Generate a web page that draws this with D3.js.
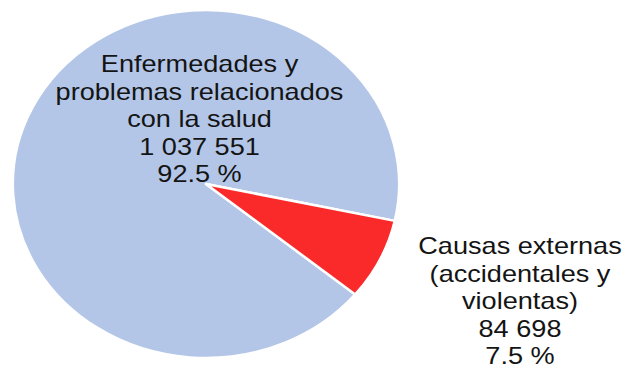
<!DOCTYPE html>
<html>
<head>
<meta charset="utf-8">
<script src="https://cdn.jsdelivr.net/npm/d3@7"></script>
<style>
  body { margin: 0; background: #fff; }
  text { font-family: "Liberation Sans", Arial, sans-serif; fill: #141414; }
</style>
</head>
<body>
<div id="pie"></div>
<script>
// datos
const categories = ["Enfermedades y problemas relacionados con la salud", "Causas externas (accidentales y violentas)"];
const values = [1037551, 84698];
const valueLabels = ["1 037 551", "84 698"];
const pctLabels = ["92.5 %", "7.5 %"];
const labelLines = [
    ["Enfermedades y", "problemas relacionados", "con la salud"],
    ["Causas externas", "(accidentales y", "violentas)"]
];
const colors = ["#b3c6e7", "#fb2a2a"];

function drawPie() {
    const width = 626,
        height = 368,
        cx = 206,
        cy = 184,
        radius = 174,
        sx = 1.11; // el grafico original esta estirado en horizontal

    const svg = d3.select('#pie')
        .append('svg')
        .attr('width', width)
        .attr('height', height);

    const pie = d3.pie()
        .sort(null)
        .startAngle(129.4 * Math.PI / 180)
        .endAngle((129.4 + 360) * Math.PI / 180);

    const arc = d3.arc()
        .innerRadius(0)
        .outerRadius(radius);

    const color = d3.scaleOrdinal()
        .domain(categories)
        .range(colors);

    const g = svg.append('g')
        .attr('transform', `translate(${cx},${cy}) scale(${sx},1)`);

    g.selectAll('path')
        .data(pie(values))
        .enter()
        .append('path')
        .attr('d', arc)
        .attr('fill', (d, i) => color(categories[i]))
        .attr('stroke', '#fff')
        .attr('stroke-width', 2.5)
        .attr('stroke-linejoin', 'round')
        .attr('vector-effect', 'non-scaling-stroke');

    // etiquetas
    const labelPos = [
        { x: 199.5, y: 72 },
        { x: 520, y: 254 }
    ];
    const lineH = 27.6;

    labelPos.forEach((p, i) => {
        const lines = labelLines[i].concat([valueLabels[i], pctLabels[i]]);
        const t = svg.append('text')
            .attr('transform', `translate(${p.x},${p.y}) scale(1.13,1)`)
            .attr('text-anchor', 'middle')
            .style('font-size', '24px');
        lines.forEach((l, j) => {
            t.append('tspan')
                .attr('x', 0)
                .attr('y', j * lineH)
                .text(l);
        });
    });
}

drawPie();
</script>
</body>
</html>
